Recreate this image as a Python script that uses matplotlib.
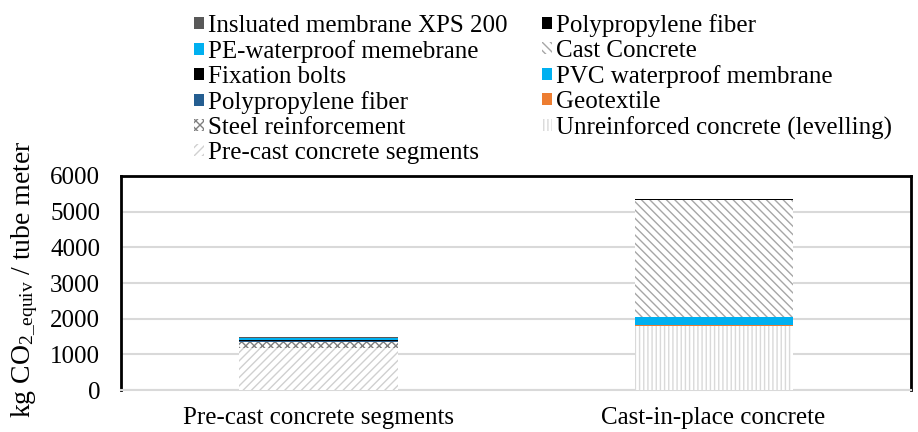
import matplotlib
matplotlib.use("Agg")
import matplotlib.pyplot as plt
import numpy as np

plt.rcParams['font.family'] = ['Liberation Serif', 'DejaVu Serif']
plt.rcParams['mathtext.fontset'] = 'custom'
plt.rcParams['mathtext.rm'] = 'Liberation Serif'
plt.rcParams['mathtext.it'] = 'Liberation Serif:italic'
plt.rcParams['hatch.linewidth'] = 1.0

categories = ['Pre-cast concrete segments', 'Cast-in-place concrete']

# kg CO2 equiv per tube meter (bottom of stack first)
pre_cast_segments = [1170, 0]
steel_reinforcement = [185, 0]
unreinforced_concrete = [0, 1785]
geotextile = [0, 30]
pvc_membrane = [0, 225]
cast_concrete = [0, 3290]
pp_fiber_blue = [25, 0]
fixation_bolts = [25, 0]
pe_membrane = [65, 0]
insulated_xps = [20, 0]
pp_fiber_black = [0, 20]

# (label, values, facecolor, hatch, hatchcolor)
series = [
    ('Pre-cast concrete segments', pre_cast_segments, 'white', '////', '#d0d0d0'),
    ('Steel reinforcement', steel_reinforcement, 'white', 'xxxx', '#7f7f7f'),
    ('Unreinforced concrete (levelling)', unreinforced_concrete, 'white', '||||', '#d9d9d9'),
    ('Geotextile', geotextile, '#ED7D31', None, None),
    ('PVC waterproof membrane', pvc_membrane, '#00B0F0', None, None),
    ('Cast Concrete', cast_concrete, 'white', '\\\\\\\\', '#a6a6a6'),
    ('Polypropylene fiber', pp_fiber_blue, '#255E91', None, None),
    ('Fixation bolts', fixation_bolts, '#000000', None, None),
    ('PE-waterproof memebrane', pe_membrane, '#00B0F0', None, None),
    ('Insluated membrane XPS 200', insulated_xps, '#595959', None, None),
    ('Polypropylene fiber ', pp_fiber_black, '#000000', None, None),
]

fig = plt.figure(figsize=(9.18, 4.32), dpi=100)
ax = fig.add_axes([0.1318, 0.0972, 0.8606, 0.4954])

x = np.arange(len(categories))
bottom = np.zeros(len(categories))
handles = {}
for label, vals, fc, hatch, hc in series:
    vals = np.array(vals, dtype=float)
    if hatch:
        b = ax.bar(x, vals, 0.4, bottom=bottom, color='white', edgecolor=hc,
                   hatch=hatch, linewidth=0, zorder=3)
    else:
        b = ax.bar(x, vals, 0.4, bottom=bottom, color=fc, linewidth=0, zorder=3)
    handles[label] = b
    bottom += vals

ax.set_xlim(-0.5, 1.5)
ax.set_ylim(0, 6000)
ax.set_yticks(np.arange(0, 6001, 1000))
ax.set_xticks(x)
ax.set_xticklabels(categories, fontsize=18)
ax.tick_params(axis='y', labelsize=18, length=0, pad=15)
ax.tick_params(axis='x', length=0, pad=12)
ax.yaxis.grid(True, color='#d9d9d9', linewidth=1.5, zorder=0)
ax.set_axisbelow(True)
for s in ['left', 'top', 'right']:
    ax.spines[s].set_color('black')
    ax.spines[s].set_linewidth(2)
ax.spines['bottom'].set_color('#d9d9d9')
ax.spines['bottom'].set_linewidth(1.5)

fig.text(0.027, 0.354, r'kg CO$_{\mathrm{2\_equiv}}$ / tube meter', fontsize=20,
         rotation=90, ha='center', va='center')

order = ['Insluated membrane XPS 200', 'PE-waterproof memebrane', 'Fixation bolts',
         'Polypropylene fiber', 'Steel reinforcement', 'Pre-cast concrete segments',
         'Polypropylene fiber ', 'Cast Concrete', 'PVC waterproof membrane',
         'Geotextile', 'Unreinforced concrete (levelling)']
leg = fig.legend([handles[k] for k in order], [k.strip() for k in order],
                 ncol=2, loc='upper left', bbox_to_anchor=(0.195, 1.002),
                 frameon=False, fontsize=18, handlelength=0.4, handleheight=0.4,
                 handletextpad=0.14, labelspacing=0.12, columnspacing=1.4,
                 borderpad=0.1)

fig.savefig('out.png', dpi=100)
